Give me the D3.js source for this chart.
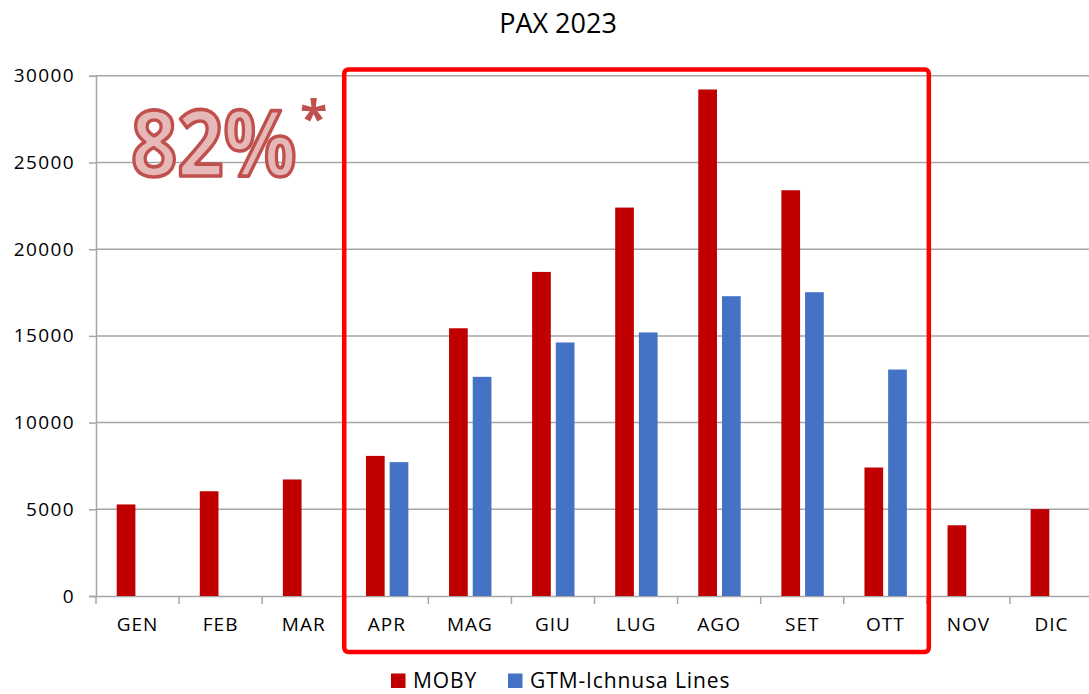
<!DOCTYPE html>
<html>
<head>
<meta charset="utf-8">
<script src="https://cdn.jsdelivr.net/npm/d3@7"></script>
<style>
  body { margin: 0; background: #fff; }
  text { font-family: "Open Sans", sans-serif; fill: #000; }
</style>
</head>
<body>
<div id="container"></div>
<script>
// DATA
const months = ["GEN","FEB","MAR","APR","MAG","GIU","LUG","AGO","SET","OTT","NOV","DIC"];
const moby = [5280, 6040, 6720, 8080, 15440, 18690, 22400, 29210, 23400, 7410, 4080, 5010];
const gtm = [null, null, null, 7720, 12640, 14620, 15200, 17290, 17520, 13060, null, null];
const yTicks = [0, 5000, 10000, 15000, 20000, 25000, 30000];
const seriesNames = ["MOBY", "GTM-Ichnusa Lines"];
const colors = ["#c00000", "#4472c4"];

// VARIABLES
const width = 1089, height = 694;
const plotLeft = 96, plotRight = 1093, plotTop = 75.8, plotBottom = 596;

const svg = d3.select("#container").append("svg")
  .attr("width", width).attr("height", height);

// SCALES
const x = d3.scaleBand().domain(months).range([plotLeft, plotRight]);
const y = d3.scaleLinear().domain([0, 30000]).range([plotBottom, plotTop]);
const barW = 18.7, gap = 5, offset = 20.7;

// gridlines
svg.append("g").selectAll("line")
  .data(yTicks.filter(d => d > 0))
  .join("line")
  .attr("x1", plotLeft).attr("x2", width)
  .attr("y1", d => y(d)).attr("y2", d => y(d))
  .attr("stroke", "#a6a6a6").attr("stroke-width", 1.5);

// y axis
const yAxis = svg.append("g")
  .attr("transform", `translate(${plotLeft},0)`)
  .call(d3.axisLeft(y).tickValues(yTicks).tickSize(7).tickPadding(14).tickFormat(d3.format("d")));
yAxis.selectAll("line, path").attr("stroke", "#a6a6a6").attr("stroke-width", 1.5);
yAxis.selectAll("text").attr("font-size", 19).attr("letter-spacing", 1.4)
  .attr("font-family", "Open Sans").attr("fill", "#000");

// x axis
const xAxis = svg.append("g")
  .attr("transform", `translate(0,${plotBottom})`)
  .call(d3.axisBottom(x).tickSize(0).tickPadding(22));
xAxis.select("path").attr("stroke", "#a6a6a6").attr("stroke-width", 1.5);
xAxis.selectAll("text").attr("font-size", 19).attr("letter-spacing", 1)
  .attr("font-family", "Open Sans").attr("fill", "#000");
xAxis.selectAll(".sep")
  .data(months.concat(["END"]))
  .join("line")
  .attr("x1", (d, i) => plotLeft + i * x.step()).attr("x2", (d, i) => plotLeft + i * x.step())
  .attr("y1", 0).attr("y2", 8)
  .attr("stroke", "#a6a6a6").attr("stroke-width", 1.5);

// bars
svg.append("g").selectAll("rect")
  .data(moby)
  .join("rect")
  .attr("x", (d, i) => x(months[i]) + offset)
  .attr("y", d => y(d))
  .attr("width", barW)
  .attr("height", d => plotBottom - y(d))
  .attr("fill", colors[0]);

svg.append("g").selectAll("rect")
  .data(gtm.map((v, i) => ({v, m: months[i]})).filter(d => d.v != null))
  .join("rect")
  .attr("x", d => x(d.m) + offset + barW + gap)
  .attr("y", d => y(d.v))
  .attr("width", barW)
  .attr("height", d => plotBottom - y(d.v))
  .attr("fill", colors[1]);

// title
svg.append("text")
  .attr("x", 558).attr("y", 33)
  .attr("text-anchor", "middle")
  .attr("font-size", 27)
  .text("PAX 2023");

// highlight box APR - OTT
svg.append("rect")
  .attr("x", x("APR") - 1)
  .attr("y", 69.5)
  .attr("width", x("NOV") + 2 - x("APR") + 1)
  .attr("height", 652 - 69.5)
  .attr("rx", 4)
  .attr("fill", "none")
  .attr("stroke", "#ff0000")
  .attr("stroke-width", 4.5);

// 82% annotation
svg.append("text")
  .attr("transform", "translate(131,176) scale(1,1.12)")
  .attr("font-size", 81)
  .attr("font-weight", 700)
  .style("fill", "#e6b9b8")
  .attr("stroke", "#c0504d")
  .attr("stroke-width", 3.3)
  .attr("stroke-linejoin", "round")
  .text("82%");
svg.append("text")
  .attr("x", 300).attr("y", 136)
  .attr("font-size", 50)
  .attr("font-weight", 700)
  .style("fill", "#c0504d")
  .text("*");

// legend
const legendX = [391, 508];
const lg = svg.append("g").selectAll("g")
  .data(seriesNames)
  .join("g")
  .attr("transform", (d, i) => `translate(${legendX[i]},673.5)`);
lg.append("rect").attr("width", 14.5).attr("height", 14.5).attr("fill", (d, i) => colors[i]);
lg.append("text").attr("x", 22).attr("y", 14.5).attr("font-size", 21).attr("letter-spacing", 0.9).text(d => d);
</script>
</body>
</html>
